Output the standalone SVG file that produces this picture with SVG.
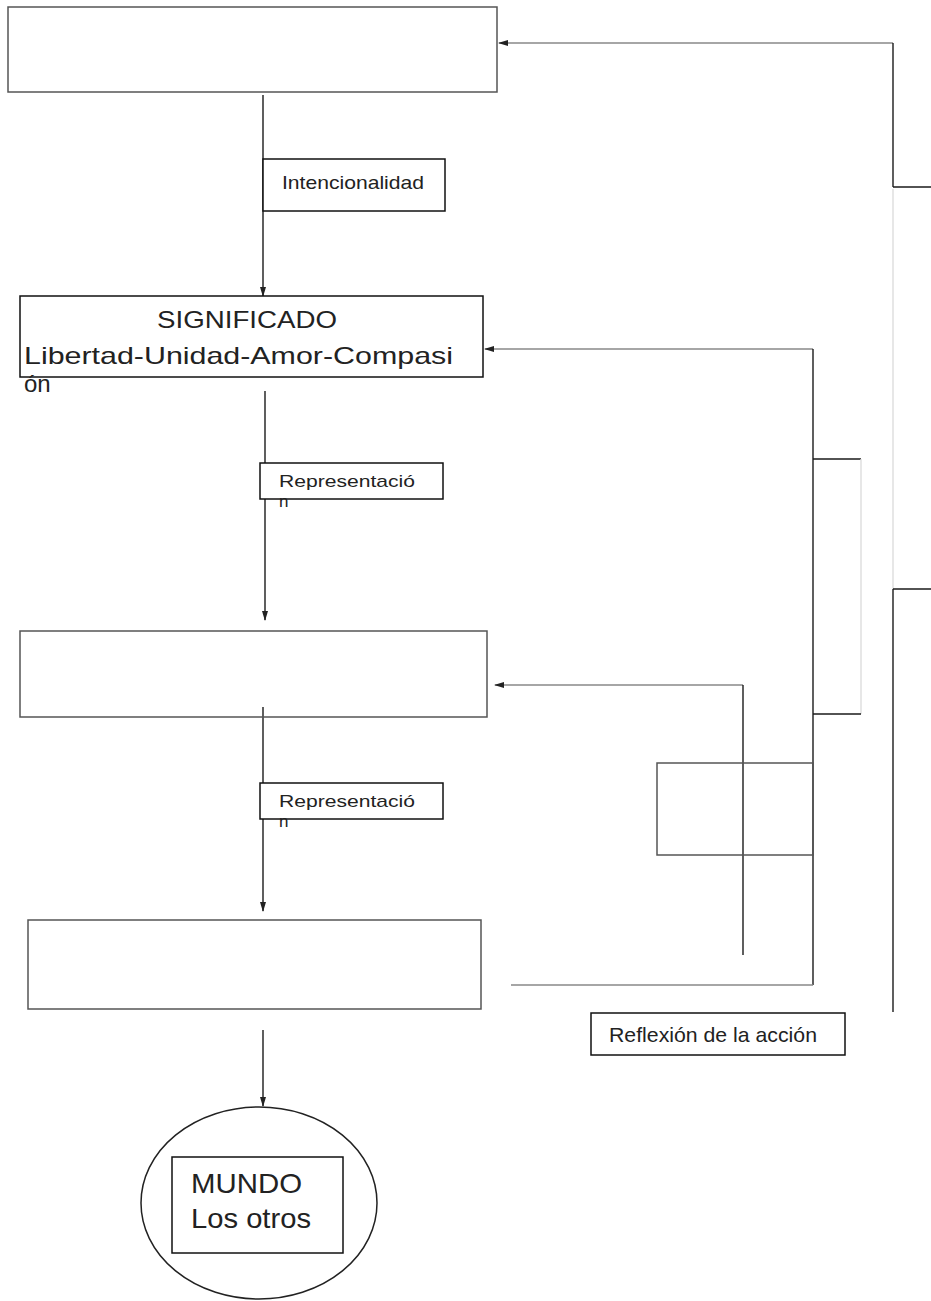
<svg xmlns="http://www.w3.org/2000/svg" width="931" height="1301" viewBox="0 0 931 1301">
<style>
.box{fill:none;stroke:#555;stroke-width:1.5}
.lbl{fill:#fff;stroke:#111;stroke-width:1.5}
.v{stroke:#1a1a1a;stroke-width:1.4;fill:none}
.h{stroke:#888;stroke-width:1.6;fill:none}
.lt{stroke:#ddd;stroke-width:1.4;fill:none}
.t{font-family:"Liberation Sans",Arial,sans-serif;fill:#222}
</style>
<defs>
<marker id="ah" markerWidth="10" markerHeight="6" refX="9" refY="3" orient="auto" markerUnits="userSpaceOnUse">
<path d="M0,0 L10,3 L0,6 z" fill="#222"/>
</marker>
</defs>
<rect width="931" height="1301" fill="#fff"/>
<g id="connectors">
<line class="v" x1="263" y1="95" x2="263" y2="296" marker-end="url(#ah)"/>
<line class="v" x1="265" y1="391" x2="265" y2="620" marker-end="url(#ah)"/>
<line class="v" x1="263" y1="707" x2="263" y2="911" marker-end="url(#ah)"/>
<line class="v" x1="263" y1="1030" x2="263" y2="1106" marker-end="url(#ah)"/>
<line class="h" x1="893" y1="43" x2="499" y2="43" marker-end="url(#ah)"/>
<line class="v" x1="893" y1="43" x2="893" y2="187"/>
<line class="v" x1="893" y1="187" x2="931" y2="187"/>
<line class="lt" x1="893" y1="189" x2="893" y2="589"/>
<line class="v" x1="893" y1="589" x2="931" y2="589"/>
<line class="v" x1="893" y1="589" x2="893" y2="1012"/>
<line class="h" x1="813" y1="349" x2="485" y2="349" marker-end="url(#ah)"/>
<line class="v" x1="813" y1="349" x2="813" y2="985"/>
<line class="h" x1="813" y1="985" x2="511" y2="985"/>
<line class="v" x1="813" y1="459" x2="861" y2="459"/>
<line class="lt" x1="861" y1="459" x2="861" y2="714"/>
<line class="v" x1="813" y1="714" x2="861" y2="714"/>
<line class="h" x1="743" y1="685" x2="495" y2="685" marker-end="url(#ah)"/>
<line class="v" x1="743" y1="685" x2="743" y2="955"/>
</g>
<g id="node-top"><rect class="box" x="8" y="7" width="489" height="85"/></g>
<g id="node-intencionalidad"><rect class="lbl" x="263" y="159" width="182" height="52"/>
<text class="t" x="282" y="189" font-size="19" textLength="142" lengthAdjust="spacingAndGlyphs">Intencionalidad</text></g>
<g id="node-significado"><rect class="lbl" x="20" y="296" width="463" height="81"/>
<text class="t" x="157" y="328" font-size="24" textLength="180" lengthAdjust="spacingAndGlyphs">SIGNIFICADO</text>
<text class="t" x="24" y="364" font-size="24" textLength="429" lengthAdjust="spacingAndGlyphs">Libertad-Unidad-Amor-Compasi</text>
<text class="t" x="24" y="392" font-size="24">ón</text></g>
<g id="node-rep1"><rect class="lbl" x="260" y="463" width="183" height="36"/>
<text class="t" x="279" y="487" font-size="17" textLength="136" lengthAdjust="spacingAndGlyphs">Representació</text>
<text class="t" x="279" y="507" font-size="17">n</text></g>
<g id="node-third"><rect class="box" x="20" y="631" width="467" height="86"/></g>
<g id="node-rep2"><rect class="lbl" x="260" y="783" width="183" height="36"/>
<text class="t" x="279" y="807" font-size="17" textLength="136" lengthAdjust="spacingAndGlyphs">Representació</text>
<text class="t" x="279" y="827" font-size="17">n</text></g>
<g id="node-fourth"><rect class="box" x="28" y="920" width="453" height="89"/></g>
<g id="node-empty"><rect class="box" x="657" y="763" width="156" height="92" stroke="#777"/></g>
<g id="node-reflexion"><rect class="lbl" x="591" y="1013" width="254" height="42"/>
<text class="t" x="609" y="1042" font-size="21" textLength="208" lengthAdjust="spacingAndGlyphs">Reflexión de la acción</text></g>
<g id="node-mundo"><ellipse cx="259" cy="1203" rx="118" ry="96" fill="none" stroke="#222" stroke-width="1.5"/>
<rect class="lbl" x="172" y="1157" width="171" height="96"/>
<text class="t" x="191" y="1193" font-size="28" textLength="111" lengthAdjust="spacingAndGlyphs">MUNDO</text>
<text class="t" x="191" y="1228" font-size="28" textLength="120" lengthAdjust="spacingAndGlyphs">Los otros</text></g>
</svg>
